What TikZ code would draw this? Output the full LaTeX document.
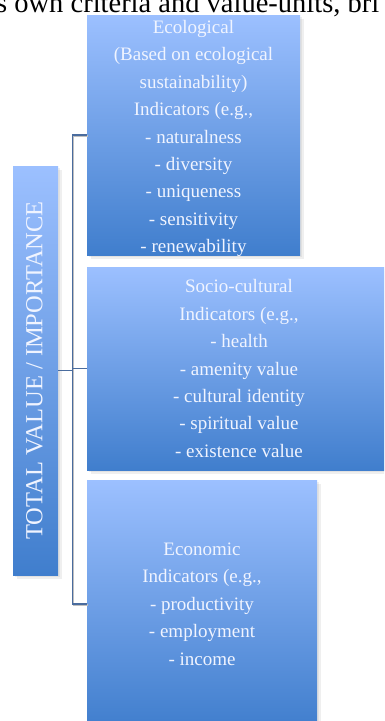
\documentclass[tikz,border=0pt]{standalone}
\usepackage{fontspec}
\setmainfont{Liberation Serif}
\usetikzlibrary{shadows}
\definecolor{boxtop}{RGB}{156,192,255}
\definecolor{boxbot}{RGB}{64,126,205}
\definecolor{boxtext}{RGB}{240,244,255}
\definecolor{connc}{RGB}{74,108,158}
\tikzset{
  box/.style={rectangle, inner sep=0pt, top color=boxtop, bottom color=boxbot,
    draw=none, text=boxtext, align=center,
    font=\fontsize{19}{27.45}\selectfont,
    drop shadow={opacity=0.12, shadow xshift=2pt, shadow yshift=-2pt},
    drop shadow={opacity=0.12, shadow xshift=4pt, shadow yshift=-4pt}},
  boxtxt/.style={inner sep=0pt, text=boxtext, align=center,
    font=\fontsize{19}{27.45}\selectfont},
  conn/.style={draw=connc, line width=1.6pt},
  connshadow/.style={draw=black!25, line width=1.6pt}
}
\begin{document}
\begin{tikzpicture}[x=1pt,y=-1pt]
\useasboundingbox (0,0) rectangle (384,721);
\clip (0,0) rectangle (384,721);
\fill[white] (0,0) rectangle (384,721);
% header text cut at top
\node[anchor=base west, inner sep=0pt, font=\fontsize{28.5}{30}\selectfont, text=black]
  (hdr) at (-4,12) {s own criteria and value-units, bri};
% boxes
\node[box, minimum width=213pt, minimum height=240pt] (eco) at (193.5,135) {};
\node[boxtxt] (ecotext) at ([yshift=-3.5pt]eco.center)
  {Ecological\\(Based on ecological\\sustainability)\\Indicators (e.g.,\\- naturalness\\- diversity\\- uniqueness\\- sensitivity\\- renewability};
\node[box, minimum width=304pt, minimum height=203pt] (soc) at (239,368.5)
  {Socio-cultural\\Indicators (e.g.,\\- health\\- amenity value\\- cultural identity\\- spiritual value\\- existence value};
\node[box, minimum width=230pt, minimum height=248pt] (econ) at (202,604)
  {Economic\\Indicators (e.g.,\\- productivity\\- employment\\- income};
\node[box, minimum width=45pt, minimum height=409pt] (total) at (35.5,370.5) {};
\node[rotate=90, inner sep=0pt, text=boxtext, font=\fontsize{24.5}{26}\selectfont]
  (totaltext) at ([xshift=-1pt]total.center) {TOTAL VALUE / IMPORTANCE};
% connectors
\coordinate (bus) at (72.5,135);
\draw[connshadow, transform canvas={xshift=1pt,yshift=-1pt}]
  (eco.west) -- (eco.west -| bus) -- (econ.west -| bus) -- (econ.west);
\draw[conn] (eco.west) -- (eco.west -| bus) -- (econ.west -| bus) -- (econ.west);
\draw[conn] (total.east) -- (total.east -| bus);
\draw[conn] (soc.west -| bus) -- (soc.west);
\end{tikzpicture}
\end{document}
